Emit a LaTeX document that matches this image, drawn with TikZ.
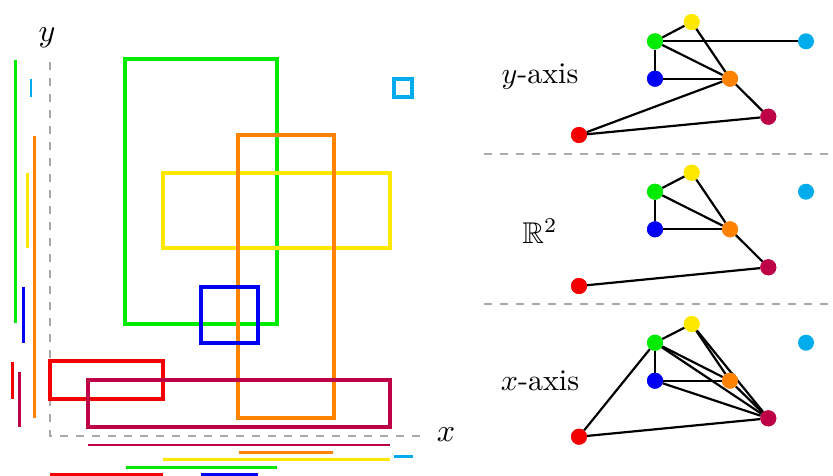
\documentclass[tikz,border=0pt]{standalone}
\usepackage{amssymb}
\definecolor{cgreen}{RGB}{0,235,0}
\definecolor{cyellow}{RGB}{255,232,0}
\definecolor{corange}{RGB}{255,130,0}
\definecolor{cblue}{RGB}{0,0,245}
\definecolor{cred}{RGB}{245,0,0}
\definecolor{cpurple}{RGB}{190,0,70}
\definecolor{ccyan}{RGB}{0,172,236}
\definecolor{caxis}{RGB}{170,170,170}
\tikzset{
  box/.style={line width=3.2pt},
  proj/.style={line width=2.6pt},
  axisline/.style={caxis, line width=1.8pt, dash pattern=on 8pt off 8pt},
  vtx/.style={circle, inner sep=0pt, minimum size=16pt, fill=#1},
  edge/.style={black, line width=2.2pt},
  lbl/.style={scale=3},
  axlbl/.style={scale=3.2},
}
\begin{document}
\begin{tikzpicture}[x=1pt,y=-1pt]
\useasboundingbox (0,0) rectangle (833,475);
% axes
\coordinate (ytop) at (50,62);
\coordinate (org) at (50,436);
\coordinate (xend) at (424,436);
\draw[axisline] (ytop) -- (org) -- (xend);
\node[axlbl] (ylab) at (47,38) {$y$};
\node[axlbl] (xlab) at (446,435) {$x$};
% rectangles
\draw[box, cgreen] (125,59) rectangle (277,324);
\draw[box, cyellow] (163,173) rectangle (390,248);
\draw[box, corange] (238,135) rectangle (334,418);
\draw[box, cblue] (201,287) rectangle (258,343);
\draw[box, cred] (50,361) rectangle (163,399);
\draw[box, cpurple] (88,380) rectangle (390,427);
\draw[box, ccyan] (394,79) rectangle (412,97);
% y projections
\draw[proj, cgreen] (15.7,60) -- (15.7,323);
\draw[proj, ccyan] (31,79) -- (31,97);
\draw[proj, corange] (34.7,136) -- (34.7,418);
\draw[proj, cyellow] (27.3,173) -- (27.3,248);
\draw[proj, cblue] (23.3,287) -- (23.3,343);
\draw[proj, cred] (12.3,362) -- (12.3,399);
\draw[proj, cpurple] (19.7,372) -- (19.7,427);
% x projections
\draw[proj, cpurple] (88,445) -- (390,445);
\draw[proj, corange] (239,452.5) -- (333,452.5);
\draw[proj, ccyan] (394,456.5) -- (413,456.5);
\draw[proj, cyellow] (163,459.5) -- (390,459.5);
\draw[proj, cgreen] (126,467.5) -- (277,467.5);
\draw[proj, cred] (50,474.5) -- (163,474.5);
\draw[proj, cblue] (201,474.5) -- (258,474.5);
% separators
\coordinate (s1a) at (484,154);
\coordinate (s1b) at (828,154);
\coordinate (s2a) at (484,304);
\coordinate (s2b) at (828,304);
\draw[axisline] (s1a) -- (s1b);
\draw[axisline] (s2a) -- (s2b);
% graph 1: y-axis
\node[lbl] (l1) at (540,77) {$y$-axis};
\node[vtx=cyellow] (y1) at (691.7,22) {};
\node[vtx=cgreen] (g1) at (655,41.3) {};
\node[vtx=ccyan] (c1) at (806,41.3) {};
\node[vtx=cblue] (b1) at (655,78.7) {};
\node[vtx=corange] (o1) at (730,78.7) {};
\node[vtx=cpurple] (p1) at (768.3,116.7) {};
\node[vtx=cred] (r1) at (579,135) {};
\draw[edge] (g1) -- (y1);
\draw[edge] (g1) -- (c1);
\draw[edge] (g1) -- (o1);
\draw[edge] (g1) -- (b1);
\draw[edge] (b1) -- (o1);
\draw[edge] (y1) -- (o1);
\draw[edge] (o1) -- (p1);
\draw[edge] (r1) -- (o1);
\draw[edge] (r1) -- (p1);
% graph 2: R^2
\node[lbl] (l2) at (540,231) {$\mathbb{R}^2$};
\node[vtx=cyellow] (y2) at (691.7,172.7) {};
\node[vtx=cgreen] (g2) at (655,191.7) {};
\node[vtx=ccyan] (c2) at (806,191.7) {};
\node[vtx=cblue] (b2) at (655,229.3) {};
\node[vtx=corange] (o2) at (730,229.3) {};
\node[vtx=cpurple] (p2) at (768.3,267.3) {};
\node[vtx=cred] (r2) at (579,286) {};
\draw[edge] (g2) -- (y2);
\draw[edge] (g2) -- (b2);
\draw[edge] (g2) -- (o2);
\draw[edge] (y2) -- (o2);
\draw[edge] (b2) -- (o2);
\draw[edge] (o2) -- (p2);
\draw[edge] (r2) -- (p2);
% graph 3: x-axis
\node[lbl] (l3) at (540,381) {$x$-axis};
\node[vtx=cyellow] (y3) at (691.7,324) {};
\node[vtx=cgreen] (g3) at (655,342.7) {};
\node[vtx=ccyan] (c3) at (806,342.7) {};
\node[vtx=cblue] (b3) at (655,380.7) {};
\node[vtx=corange] (o3) at (730,380.7) {};
\node[vtx=cpurple] (p3) at (768.3,418.3) {};
\node[vtx=cred] (r3) at (579,436.7) {};
\draw[edge] (g3) -- (y3);
\draw[edge] (g3) -- (b3);
\draw[edge] (g3) -- (o3);
\draw[edge] (g3) -- (p3);
\draw[edge] (g3) -- (r3);
\draw[edge] (y3) -- (o3);
\draw[edge] (y3) -- (p3);
\draw[edge] (b3) -- (o3);
\draw[edge] (b3) -- (p3);
\draw[edge] (o3) -- (p3);
\draw[edge] (r3) -- (p3);
% redraw vertices on top
\foreach \n/\c in {y1/cyellow,g1/cgreen,b1/cblue,o1/corange,p1/cpurple,r1/cred,
                   y2/cyellow,g2/cgreen,b2/cblue,o2/corange,p2/cpurple,r2/cred,
                   y3/cyellow,g3/cgreen,b3/cblue,o3/corange,p3/cpurple,r3/cred}
  \fill[\c] (\n) circle (8pt);
\end{tikzpicture}
\end{document}
